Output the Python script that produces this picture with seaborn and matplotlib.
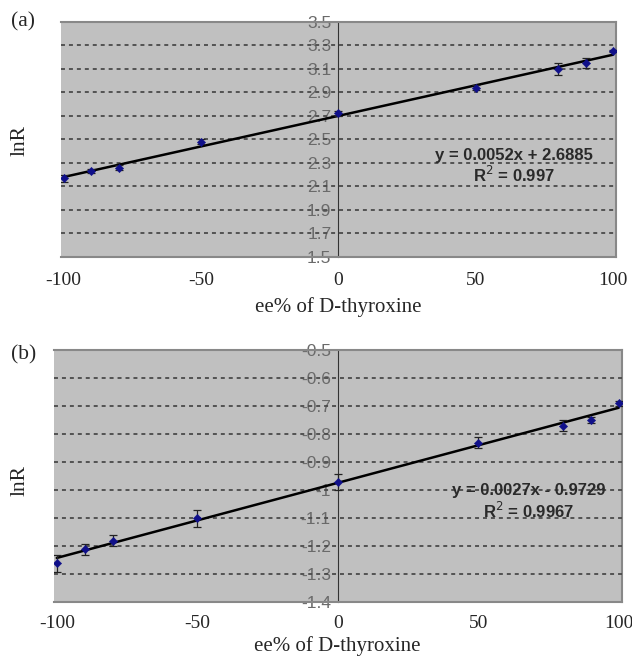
import numpy as np
import pandas as pd
import seaborn as sns
import matplotlib.pyplot as plt

# data
ee = [-100, -90, -80, -50, 0, 50, 80, 90, 100]
lnr_a = [2.17, 2.23, 2.26, 2.48, 2.72, 2.94, 3.10, 3.15, 3.25]
err_a = [0.03, 0.02, 0.02, 0.02, 0.02, 0.02, 0.05, 0.04, 0.01]
lnr_b = [-1.26, -1.21, -1.18, -1.10, -0.97, -0.83, -0.77, -0.75, -0.69]
err_b = [0.03, 0.02, 0.02, 0.03, 0.03, 0.02, 0.02, 0.01, 0.01]

yticks_a = [1.5, 1.7, 1.9, 2.1, 2.3, 2.5, 2.7, 2.9, 3.1, 3.3, 3.5]
ylabels_a = ["1.5", "1.7", "1.9", "2.1", "2.3", "2.5", "2.7", "2.9", "3.1", "3.3", "3.5"]
yticks_b = [-1.4, -1.3, -1.2, -1.1, -1.0, -0.9, -0.8, -0.7, -0.6, -0.5]
ylabels_b = ["-1.4", "-1.3", "-1.2", "-1.1", "-1", "-0.9", "-0.8", "-0.7", "-0.6", "-0.5"]
xticks = [-100, -50, 0, 50, 100]

eq_a = ["y = 0.0052x + 2.6885", "R$^2$ = 0.997"]
eq_b = ["y = 0.0027x - 0.9729", "R$^2$ = 0.9967"]

sns.set_style("white")
plt.rcParams['font.family'] = ['Liberation Serif', 'DejaVu Serif']

fig = plt.figure(figsize=(6.32, 6.62), dpi=100)
ax_a = fig.add_axes([0.0965, 0.612, 0.878, 0.355])
ax_b = fig.add_axes([0.0854, 0.090, 0.898, 0.381])


def draw(ax, y, err, yticks, ylabels, eq, eq_pos, label, label_y, ylab_y,
         xpad, lpad):
    df = pd.DataFrame({"ee": ee, "lnR": y})
    # y axis crosses at x = 0 (set first, it resets the ticks)
    ax.spines["left"].set_position(("data", 0))
    ax.set_facecolor("#c0c0c0")
    for t in yticks[1:-1]:
        ax.axhline(t, color="#4a4a4a", ls=(0, (2.2, 2.2)), lw=1.3, zorder=3)
    sns.regplot(data=df, x="ee", y="lnR", ax=ax, ci=None, scatter=False,
                line_kws=dict(color="black", lw=1.8, zorder=4))
    ax.errorbar(ee, y, yerr=err, fmt="none", ecolor="#222222",
                elinewidth=0.9, capsize=3, capthick=0.9, zorder=5)
    sns.scatterplot(data=df, x="ee", y="lnR", ax=ax, marker="D", s=18,
                    color="#10108a", edgecolor="#10108a", zorder=6)
    ax.set_ylim(yticks[0], yticks[-1])
    ax.set_xlim(-101, 101)
    ax.set_yticks(yticks)
    ax.set_yticklabels(ylabels, family="Liberation Sans", fontsize=12.5,
                       color="#6a6a6a")
    ax.set_xticks(xticks)
    ax.set_xticklabels([str(v) for v in xticks], fontsize=14)
    ax.spines["left"].set_color("#333333")
    ax.spines["left"].set_zorder(2)
    for s in ["top", "right", "bottom"]:
        ax.spines[s].set_color("#888888")
        ax.spines[s].set_linewidth(1.5)
    ax.tick_params(axis="y", length=3, pad=2, color="#333333")
    ax.tick_params(axis="x", length=0, pad=xpad)
    ax.set_xlabel("ee% of D-thyroxine", fontsize=15, labelpad=lpad)
    ax.set_ylabel("")
    for txt, yy in zip(eq, eq_pos[1:]):
        ax.text(eq_pos[0], yy, txt, ha="center", va="center",
                family="Liberation Sans", weight="bold", fontsize=12,
                color="#2a2a2a", zorder=7)
    fig.text(0.032, ylab_y, "lnR", rotation=90, ha="center", va="center",
             fontsize=15.5)
    fig.text(0.018, label_y, label, ha="left", va="center", fontsize=15.5)


draw(ax_a, lnr_a, err_a, yticks_a, ylabels_a, eq_a, (64, 2.365, 2.2),
     "(a)", 1 - 22 / 662, 1 - 140 / 662, 11, 6)
draw(ax_b, lnr_b, err_b, yticks_b, ylabels_b, eq_b, (68, -1.0, -1.075),
     "(b)", 1 - 355 / 662, 1 - 480 / 662, 9, 3)

fig.savefig("out.png", dpi=100)
